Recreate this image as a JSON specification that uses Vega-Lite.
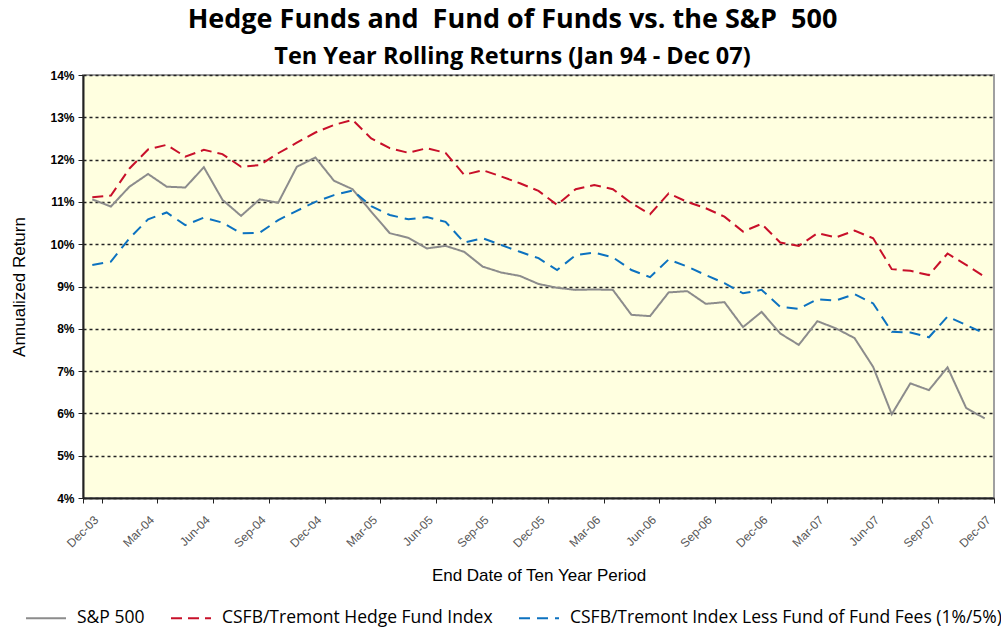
{
  "$schema": "https://vega.github.io/schema/vega-lite/v6.json",
  "width": 911,
  "height": 423,
  "autosize": "none",
  "padding": {"left": 83, "top": 75, "right": 7, "bottom": 133},
  "background": "white",
  "title": {
    "text": "Hedge Funds and\u00a0 Fund of Funds vs. the S&P\u00a0 500",
    "subtitle": "Ten Year Rolling Returns (Jan 94 - Dec 07)",
    "anchor": "middle",
    "frame": "group",
    "dx": -26,
    "offset": 0,
    "font": "Open Sans",
    "fontSize": 27,
    "fontWeight": "bold",
    "color": "black",
    "subtitleFont": "Open Sans",
    "subtitleFontSize": 23.5,
    "subtitleFontWeight": "bold",
    "subtitleColor": "black",
    "subtitlePadding": 11
  },
  "config": {
    "view": {"fill": "#FFFFE0", "stroke": "#A0A0A0", "strokeWidth": 2},
    "axis": {"domainColor": "#222222", "domainWidth": 2, "tickColor": "#222222"}
  },
  "data": {
    "values": [
      {"m": "Dec-03", "sp": 11.06, "hf": 11.11, "fof": 9.51},
      {"m": "Jan-04", "sp": 10.89, "hf": 11.15, "fof": 9.59},
      {"m": "Feb-04", "sp": 11.36, "hf": 11.79, "fof": 10.14},
      {"m": "Mar-04", "sp": 11.66, "hf": 12.24, "fof": 10.59},
      {"m": "Apr-04", "sp": 11.36, "hf": 12.35, "fof": 10.75},
      {"m": "May-04", "sp": 11.34, "hf": 12.07, "fof": 10.45},
      {"m": "Jun-04", "sp": 11.82, "hf": 12.23, "fof": 10.63},
      {"m": "Jul-04", "sp": 11.05, "hf": 12.13, "fof": 10.51},
      {"m": "Aug-04", "sp": 10.67, "hf": 11.83, "fof": 10.26},
      {"m": "Sep-04", "sp": 11.06, "hf": 11.87, "fof": 10.27},
      {"m": "Oct-04", "sp": 10.98, "hf": 12.15, "fof": 10.57},
      {"m": "Nov-04", "sp": 11.83, "hf": 12.40, "fof": 10.79},
      {"m": "Dec-04", "sp": 12.05, "hf": 12.64, "fof": 11.00},
      {"m": "Jan-05", "sp": 11.50, "hf": 12.82, "fof": 11.16},
      {"m": "Feb-05", "sp": 11.30, "hf": 12.94, "fof": 11.27},
      {"m": "Mar-05", "sp": 10.77, "hf": 12.50, "fof": 10.90},
      {"m": "Apr-05", "sp": 10.26, "hf": 12.27, "fof": 10.69},
      {"m": "May-05", "sp": 10.15, "hf": 12.16, "fof": 10.59},
      {"m": "Jun-05", "sp": 9.90, "hf": 12.27, "fof": 10.64},
      {"m": "Jul-05", "sp": 9.96, "hf": 12.16, "fof": 10.53},
      {"m": "Aug-05", "sp": 9.82, "hf": 11.64, "fof": 10.04},
      {"m": "Sep-05", "sp": 9.47, "hf": 11.75, "fof": 10.14},
      {"m": "Oct-05", "sp": 9.33, "hf": 11.60, "fof": 9.98},
      {"m": "Nov-05", "sp": 9.25, "hf": 11.44, "fof": 9.82},
      {"m": "Dec-05", "sp": 9.06, "hf": 11.26, "fof": 9.67},
      {"m": "Jan-06", "sp": 8.97, "hf": 10.93, "fof": 9.39},
      {"m": "Feb-06", "sp": 8.92, "hf": 11.30, "fof": 9.74},
      {"m": "Mar-06", "sp": 8.93, "hf": 11.40, "fof": 9.80},
      {"m": "Apr-06", "sp": 8.92, "hf": 11.30, "fof": 9.69},
      {"m": "May-06", "sp": 8.33, "hf": 10.97, "fof": 9.39},
      {"m": "Jun-06", "sp": 8.30, "hf": 10.71, "fof": 9.22},
      {"m": "Jul-06", "sp": 8.86, "hf": 11.20, "fof": 9.64},
      {"m": "Aug-06", "sp": 8.89, "hf": 11.00, "fof": 9.47},
      {"m": "Sep-06", "sp": 8.59, "hf": 10.85, "fof": 9.27},
      {"m": "Oct-06", "sp": 8.63, "hf": 10.65, "fof": 9.08},
      {"m": "Nov-06", "sp": 8.04, "hf": 10.30, "fof": 8.84},
      {"m": "Dec-06", "sp": 8.40, "hf": 10.48, "fof": 8.92},
      {"m": "Jan-07", "sp": 7.89, "hf": 10.04, "fof": 8.52},
      {"m": "Feb-07", "sp": 7.62, "hf": 9.96, "fof": 8.47},
      {"m": "Mar-07", "sp": 8.18, "hf": 10.26, "fof": 8.70},
      {"m": "Apr-07", "sp": 8.01, "hf": 10.16, "fof": 8.67},
      {"m": "May-07", "sp": 7.78, "hf": 10.32, "fof": 8.82},
      {"m": "Jun-07", "sp": 7.10, "hf": 10.14, "fof": 8.60},
      {"m": "Jul-07", "sp": 5.98, "hf": 9.41, "fof": 7.93},
      {"m": "Aug-07", "sp": 6.71, "hf": 9.37, "fof": 7.91},
      {"m": "Sep-07", "sp": 6.55, "hf": 9.27, "fof": 7.80},
      {"m": "Oct-07", "sp": 7.09, "hf": 9.78, "fof": 8.29},
      {"m": "Nov-07", "sp": 6.13, "hf": 9.51, "fof": 8.09},
      {"m": "Dec-07", "sp": 5.88, "hf": 9.23, "fof": 7.89}
    ]
  },
  "transform": [
    {"fold": ["sp", "hf", "fof"], "as": ["series", "ret"]}
  ],
  "mark": {"type": "line", "strokeCap": "butt", "strokeJoin": "miter"},
  "encoding": {
    "x": {
      "field": "m",
      "type": "ordinal",
      "sort": null,
      "bandPosition": 0.5,
      "scale": {"type": "band", "paddingInner": 0, "paddingOuter": 0},
      "axis": {
        "title": "End Date of Ten Year Period",
        "titleFont": "Liberation Sans",
        "titleFontSize": 17,
        "titleFontWeight": "normal",
        "titleColor": "black",
        "titlePadding": 18,
        "values": ["Dec-03", "Mar-04", "Jun-04", "Sep-04", "Dec-04", "Mar-05", "Jun-05", "Sep-05", "Dec-05", "Mar-06", "Jun-06", "Sep-06", "Dec-06", "Mar-07", "Jun-07", "Sep-07", "Dec-07"],
        "tickBand": "extent",
        "tickSize": 5,
        "labelAngle": -45,
        "labelAlign": "right",
        "labelBaseline": "top",
        "labelFont": "Liberation Sans",
        "labelFontSize": 12,
        "labelColor": "#555555",
        "labelPadding": 11,
        "grid": false
      }
    },
    "y": {
      "field": "ret",
      "type": "quantitative",
      "scale": {"domain": [4, 14], "nice": false, "zero": false},
      "axis": {
        "title": "Annualized Return",
        "titleFont": "Liberation Sans",
        "titleFontSize": 17,
        "titleFontWeight": "normal",
        "titleColor": "black",
        "titlePadding": 21,
        "values": [4, 5, 6, 7, 8, 9, 10, 11, 12, 13, 14],
        "labelExpr": "datum.value + '%'",
        "labelFont": "Liberation Sans",
        "labelFontSize": 12,
        "labelFontWeight": "bold",
        "labelColor": "black",
        "labelPadding": 4,
        "tickSize": 5,
        "grid": true,
        "gridColor": "#222222",
        "gridDash": [3, 3],
        "gridWidth": 1.5
      }
    },
    "color": {
      "field": "series",
      "type": "nominal",
      "scale": {"domain": ["sp", "hf", "fof"], "range": ["#8C8C8C", "#C8102A", "#0C72C0"]},
      "legend": {
        "title": null,
        "orient": "none",
        "direction": "horizontal",
        "legendX": -58,
        "legendY": 522,
        "symbolType": "stroke",
        "symbolSize": 1600,
        "labelFont": "Open Sans",
        "labelFontSize": 17.5,
        "labelColor": "black",
        "labelOffset": 10,
        "columnPadding": 22,
        "labelLimit": 500,
        "labelExpr": "datum.value == 'sp' ? 'S&P 500' : datum.value == 'hf' ? 'CSFB/Tremont Hedge Fund Index' : 'CSFB/Tremont Index Less Fund of Fund Fees (1%/5%)'"
      }
    },
    "strokeDash": {
      "field": "series",
      "type": "nominal",
      "scale": {"domain": ["sp", "hf", "fof"], "range": [[1, 0], [11, 6], [11, 7]]},
      "legend": null
    },
    "strokeWidth": {
      "field": "series",
      "type": "nominal",
      "scale": {"domain": ["sp", "hf", "fof"], "range": [2, 2, 3.5]},
      "legend": null
    }
  }
}
